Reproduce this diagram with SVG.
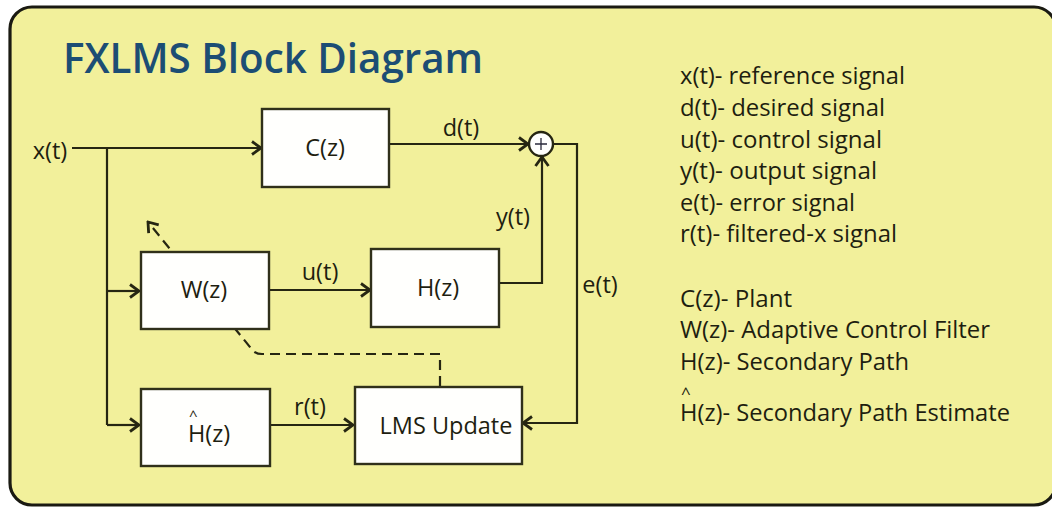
<svg xmlns="http://www.w3.org/2000/svg" width="1052" height="508" viewBox="0 0 1052 508">
  <defs>
    <marker id="arr" markerUnits="userSpaceOnUse" viewBox="-11 -8 13 16" refX="0" refY="0" markerWidth="13" markerHeight="16" orient="auto">
      <path d="M-9,-6.5 L0,0 L-9,6.5" fill="none" stroke="#262612" stroke-width="2.8" stroke-linejoin="miter"/>
    </marker>
  </defs>
  <style>
    .bg { fill: #ffffff; }
    .frame { fill: #f2f09b; stroke: #1a1a12; stroke-width: 3.2; }
    .box { fill: #fffffd; stroke: #30301a; stroke-width: 2.4; }
    .wire { fill: none; stroke: #262612; stroke-width: 2.2; }
    .dash { fill: none; stroke: #262612; stroke-width: 2.2; stroke-dasharray: 10 6; }
    .lbl { font-family: "Open Sans", "Liberation Sans", sans-serif; font-size: 23.5px; fill: #1e1e10; }
    .mid { text-anchor: middle; }
    .title { font-family: "Open Sans", "Liberation Sans", sans-serif; font-size: 41px; font-weight: 600; fill: #1c4d74; }
    .leg { font-family: "Open Sans", "Liberation Sans", sans-serif; font-size: 23.5px; fill: #1e1e10; }
    .hat1 { font-size: 15px; }
    .hat2 { font-size: 17px; }
  </style>
  <rect class="bg" x="0" y="0" width="1052" height="508"/>
  <rect class="frame" x="10" y="7" width="1046" height="498" rx="22" ry="22"/>

  <text class="title" x="63" y="73" textLength="420" lengthAdjust="spacingAndGlyphs">FXLMS Block Diagram</text>

  <g id="connectors">
    <path class="wire" d="M72,148 L261,148" marker-end="url(#arr)"/>
    <path class="wire" d="M107,148 L107,425"/>
    <path class="wire" d="M107,291 L139,291" marker-end="url(#arr)"/>
    <path class="wire" d="M107,425 L139,425" marker-end="url(#arr)"/>
    <path class="wire" d="M389,144 L528,144" marker-end="url(#arr)"/>
    <path class="wire" d="M270,290 L370,290" marker-end="url(#arr)"/>
    <path class="wire" d="M499,283 L542,283 L542,157" marker-end="url(#arr)"/>
    <path class="wire" d="M553,144 L577,144 L577,423 L523,423" marker-end="url(#arr)"/>
    <path class="wire" d="M270,425 L353,425" marker-end="url(#arr)"/>
    <path class="dash" d="M440,386 L440,354 L262,354 Q254,354 250,347 L148,222" marker-end="url(#arr)"/>
  </g>

  <g id="sum">
    <circle cx="541" cy="144" r="12" fill="#fffffd" stroke="#262612" stroke-width="2.4"/>
    <path d="M535,144 L547,144 M541,138 L541,150" stroke="#2a2a3a" stroke-width="1.3" fill="none"/>
  </g>

  <g id="node-C">
    <rect class="box" x="262" y="109" width="127" height="78"/>
    <text class="lbl mid" x="325" y="156">C(z)</text>
  </g>
  <g id="node-W">
    <rect class="box" x="141" y="252" width="128" height="77"/>
    <text class="lbl mid" x="204" y="298">W(z)</text>
  </g>
  <g id="node-H">
    <rect class="box" x="371" y="249" width="128" height="78"/>
    <text class="lbl mid" x="438" y="296">H(z)</text>
  </g>
  <g id="node-Hhat">
    <rect class="box" x="141" y="389" width="129" height="77"/>
    <text class="lbl"><tspan class="hat1" x="189" y="421">^</tspan><tspan x="188" y="442">H(z)</tspan></text>
  </g>
  <g id="node-LMS">
    <rect class="box" x="355" y="387" width="167" height="77"/>
    <text class="lbl mid" x="446" y="434">LMS Update</text>
  </g>

  <g id="signal-labels">
    <text class="lbl mid" x="50" y="159">x(t)</text>
    <text class="lbl mid" x="461" y="136">d(t)</text>
    <text class="lbl mid" x="320" y="280">u(t)</text>
    <text class="lbl mid" x="513" y="225">y(t)</text>
    <text class="lbl mid" x="600" y="293">e(t)</text>
    <text class="lbl mid" x="310" y="415">r(t)</text>
  </g>

  <g id="legend">
    <text class="leg" x="680" y="84" textLength="225" lengthAdjust="spacingAndGlyphs">x(t)- reference signal</text>
    <text class="leg" x="680" y="116" textLength="205" lengthAdjust="spacingAndGlyphs">d(t)- desired signal</text>
    <text class="leg" x="680" y="148" textLength="202" lengthAdjust="spacingAndGlyphs">u(t)- control signal</text>
    <text class="leg" x="680" y="179" textLength="197" lengthAdjust="spacingAndGlyphs">y(t)- output signal</text>
    <text class="leg" x="680" y="211" textLength="175" lengthAdjust="spacingAndGlyphs">e(t)- error signal</text>
    <text class="leg" x="680" y="242" textLength="217" lengthAdjust="spacingAndGlyphs">r(t)- filtered-x signal</text>
    <text class="leg" x="680" y="307" textLength="112" lengthAdjust="spacingAndGlyphs">C(z)- Plant</text>
    <text class="leg" x="680" y="338" textLength="310" lengthAdjust="spacingAndGlyphs">W(z)- Adaptive Control Filter</text>
    <text class="leg" x="680" y="370" textLength="229" lengthAdjust="spacingAndGlyphs">H(z)- Secondary Path</text>
    <text class="leg"><tspan class="hat2" x="681" y="399">^</tspan><tspan x="680" y="421" textLength="330" lengthAdjust="spacingAndGlyphs">H(z)- Secondary Path Estimate</tspan></text>
  </g>
</svg>
